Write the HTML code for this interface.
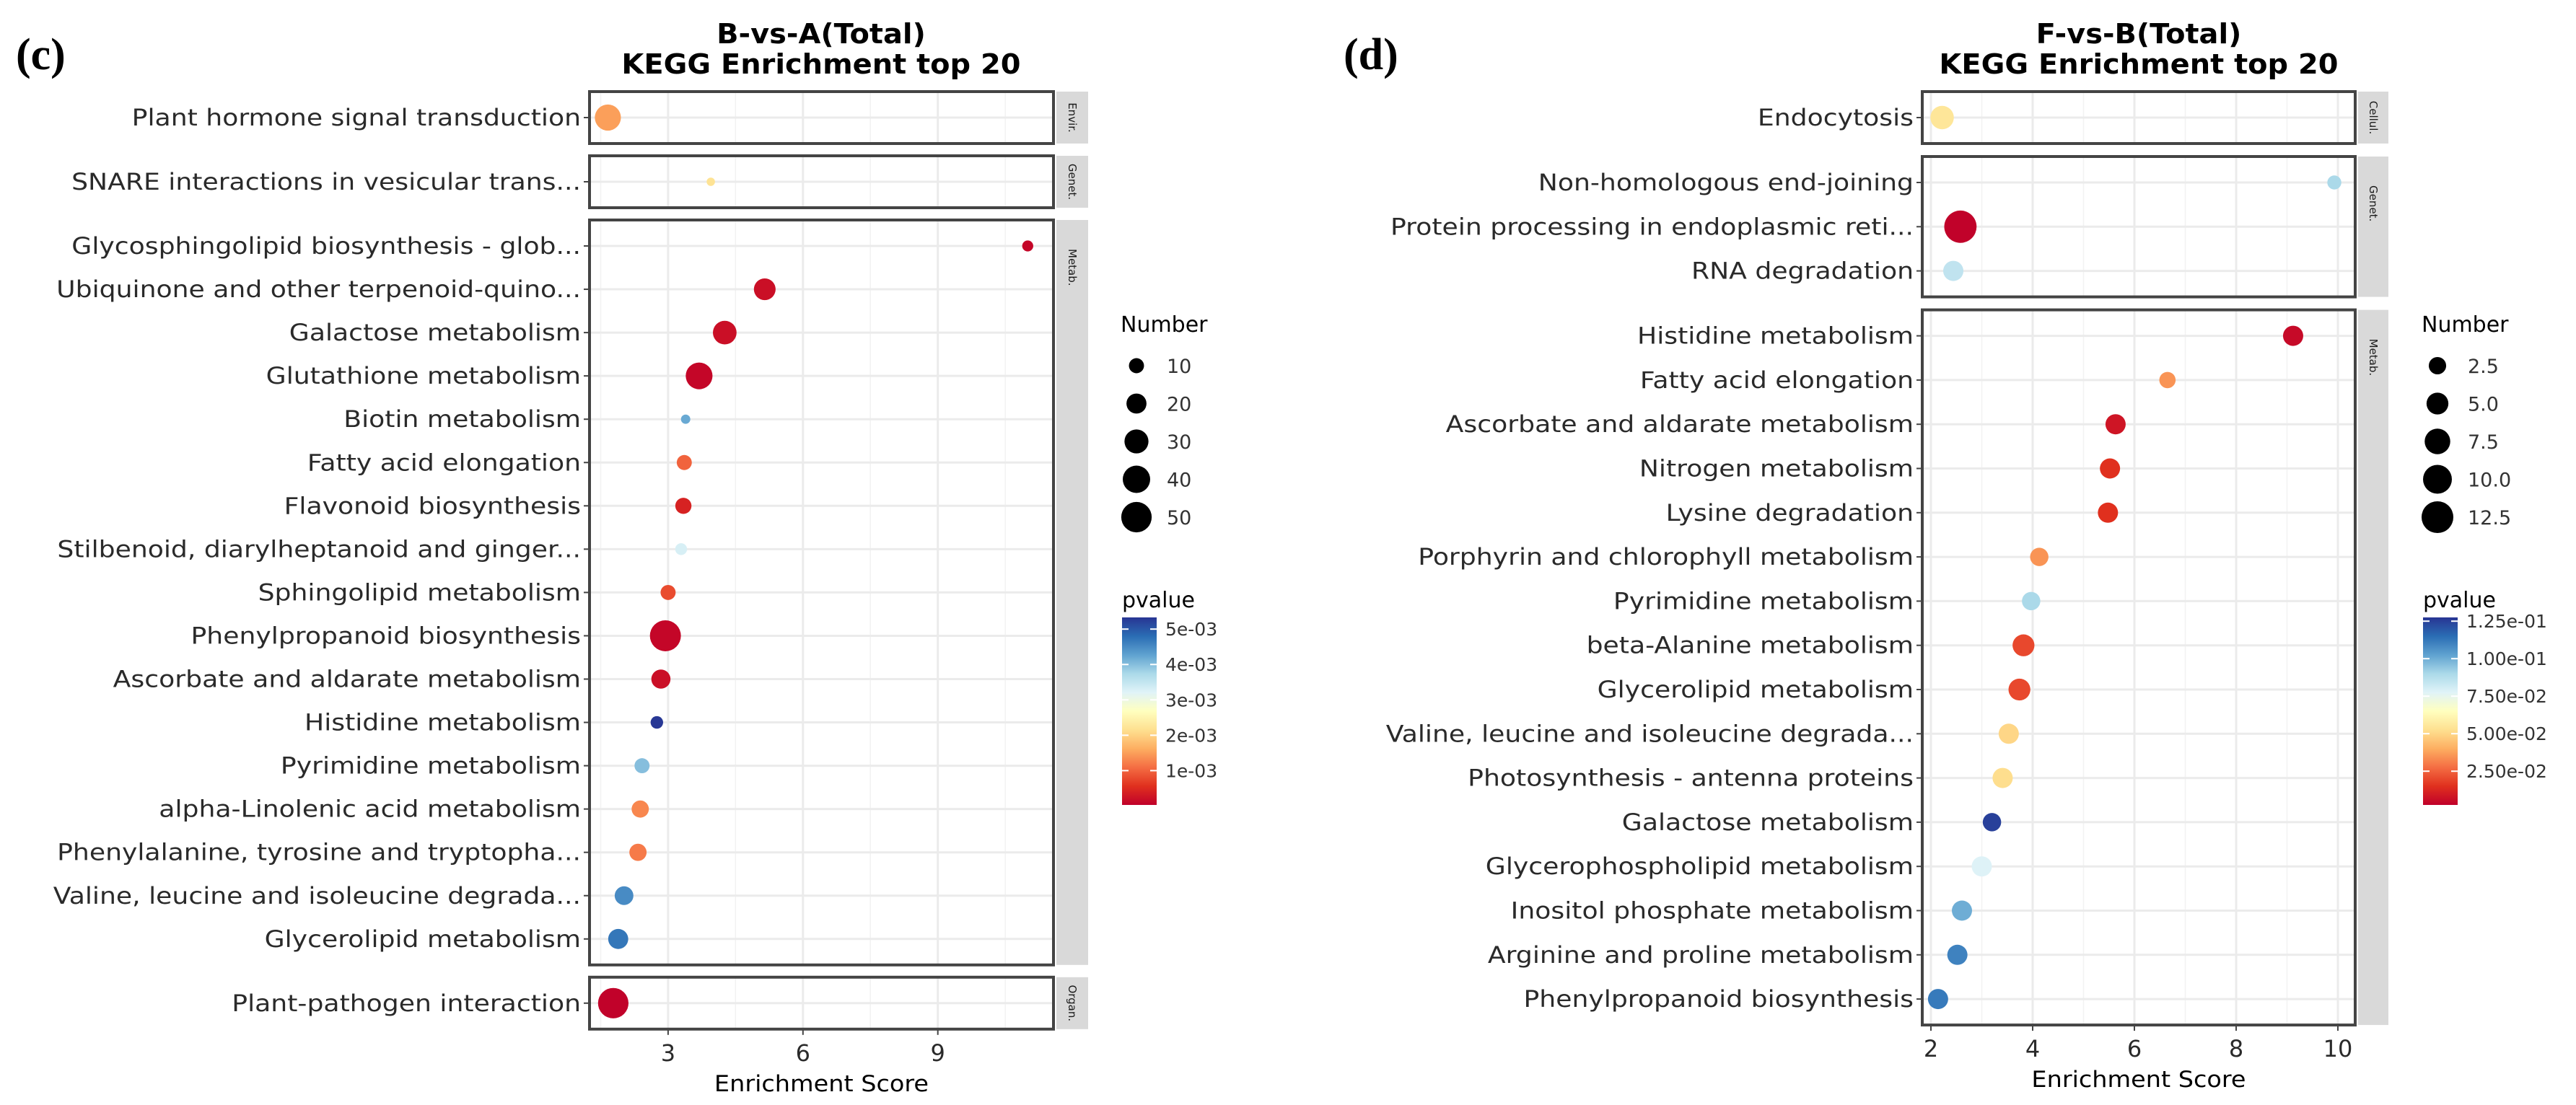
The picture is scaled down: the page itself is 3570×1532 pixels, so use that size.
<!DOCTYPE html>
<html><head><meta charset="utf-8">
<style>
html,body{margin:0;padding:0;background:#fff;}
svg{display:block;}
text{font-family:"DejaVu Sans","Liberation Sans",sans-serif;}
</style></head>
<body>
<svg id="chart" width="3570" height="1532" viewBox="0 0 3570 1532" xmlns="http://www.w3.org/2000/svg">
<rect x="0" y="0" width="3570" height="1532" fill="#fff"/>
<text x="22" y="96" style="font-family:'Liberation Serif',serif;font-weight:bold;font-size:62px" fill="#000">(c)</text>
<text x="1862" y="96" style="font-family:'Liberation Serif',serif;font-weight:bold;font-size:62px" fill="#000">(d)</text>
<g id="gc"></g>
<g id="gd"></g>
</svg>
<script>
// ---- Chart (c): B-vs-A ----
const catsC = ["Plant hormone signal transduction","SNARE interactions in vesicular trans...","Glycosphingolipid biosynthesis - glob...","Ubiquinone and other terpenoid-quino...","Galactose metabolism","Glutathione metabolism","Biotin metabolism","Fatty acid elongation","Flavonoid biosynthesis","Stilbenoid, diarylheptanoid and ginger...","Sphingolipid metabolism","Phenylpropanoid biosynthesis","Ascorbate and aldarate metabolism","Histidine metabolism","Pyrimidine metabolism","alpha-Linolenic acid metabolism","Phenylalanine, tyrosine and tryptopha...","Valine, leucine and isoleucine degrada...","Glycerolipid metabolism","Plant-pathogen interaction"];
const scoreC = [1.66,3.95,11.0,5.15,4.26,3.69,3.39,3.36,3.34,3.29,3.0,2.94,2.84,2.75,2.42,2.38,2.33,2.02,1.89,1.78];
const numberC = [36,1,4,24,29,38,2,10,12,5,10,52,18,6,10,14,14,17,20,50];
const pvalueC = [0.0015,0.0022,0.0001,0.0002,0.0002,0.0001,0.0042,0.001,0.0004,0.0033,0.0008,0.0001,0.0002,0.0053,0.004,0.0013,0.0012,0.0045,0.0047,0.00005];
const facetsC = ["Envir.","Genet.","Metab.","Organ."];
const facetCountsC = [1,1,17,1];
const xTicksC = [3,6,9];
const xMinorC = [1.5,4.5,7.5,10.5];
const sizeLegC = [10,20,30,40,50];
const pTicksC = [0.005,0.004,0.003,0.002,0.001];
const pTickLabelsC = ["5e-03","4e-03","3e-03","2e-03","1e-03"];

// ---- Chart (d): F-vs-B ----
const catsD = ["Endocytosis","Non-homologous end-joining","Protein processing in endoplasmic reti...","RNA degradation","Histidine metabolism","Fatty acid elongation","Ascorbate and aldarate metabolism","Nitrogen metabolism","Lysine degradation","Porphyrin and chlorophyll metabolism","Pyrimidine metabolism","beta-Alanine metabolism","Glycerolipid metabolism","Valine, leucine and isoleucine degrada...","Photosynthesis - antenna proteins","Galactose metabolism","Glycerophospholipid metabolism","Inositol phosphate metabolism","Arginine and proline metabolism","Phenylpropanoid biosynthesis"];
const scoreD = [2.22,9.93,2.58,2.44,9.12,6.65,5.63,5.52,5.48,4.13,3.97,3.82,3.74,3.53,3.41,3.2,3.0,2.61,2.52,2.14];
const numberD = [6,1,13,4,4,2,4,4,4,3,3,5,5,4,4,3,4,4,4,4];
const pvalueD = [0.055,0.09,0.003,0.085,0.005,0.035,0.008,0.015,0.015,0.035,0.09,0.02,0.02,0.05,0.052,0.125,0.078,0.1,0.11,0.112];
const facetsD = ["Cellul.","Genet.","Metab."];
const facetCountsD = [1,3,16];
const xTicksD = [2,4,6,8,10];
const xMinorD = [3,5,7,9];
const sizeLegD = [2.5,5.0,7.5,10.0,12.5];
const pTicksD = [0.125,0.1,0.075,0.05,0.025];
const pTickLabelsD = ["1.25e-01","1.00e-01","7.50e-02","5.00e-02","2.50e-02"];

const NS="http://www.w3.org/2000/svg";
const stops=["#c0002a","#e0301e","#f46d43","#fdae61","#fee090","#ffffbf","#e0f3f8","#abd9e9","#5fa2d0","#2a6db4","#283593"];
function hex(c){return [parseInt(c.slice(1,3),16),parseInt(c.slice(3,5),16),parseInt(c.slice(5,7),16)];}
function colorAt(t){t=Math.max(0,Math.min(1,t));const f=t*(stops.length-1);const i=Math.min(stops.length-2,Math.floor(f));const u=f-i;const a=hex(stops[i]),b=hex(stops[i+1]);return "rgb("+a.map((v,k)=>Math.round(v+(b[k]-v)*u)).join(",")+")";}
function mk(parent,tag,attrs,txt){const e=document.createElementNS(NS,tag);for(const k in attrs)e.setAttribute(k,attrs[k]);if(txt!==undefined)e.textContent=txt;parent.appendChild(e);return e;}
function stretch(el,f){try{const w=el.getComputedTextLength();if(w>0){el.setAttribute("textLength",(w*f).toFixed(1));el.setAttribute("lengthAdjust","spacingAndGlyphs");}}catch(e){}}

function draw(cfg){
  const g=document.getElementById(cfg.gid);
  const xs=v=>cfg.x0+cfg.ux*v;
  const L=cfg.left,R=cfg.right;
  let t1=mk(g,"text",{x:cfg.titleX,y:60,"text-anchor":"middle","font-size":"38","font-weight":"bold",fill:"#000"},cfg.title);
  
  
  stretch(t1,1.05);
  let t2=mk(g,"text",{x:cfg.titleX,y:102,"text-anchor":"middle","font-size":"38","font-weight":"bold",fill:"#000"},"KEGG Enrichment top 20");
  
  
  stretch(t2,1.05);
  let top=cfg.top, idx=0; const rowY=[];
  cfg.facetCounts.forEach((n,fi)=>{
    const h=(n-1)*cfg.sp+2*cfg.pad;
    const pg=mk(g,"g",{});
    
    
    mk(pg,"rect",{x:L,y:top,width:R-L,height:h,fill:"#fff"});
    cfg.xMinor.forEach(v=>{if(xs(v)>L&&xs(v)<R)mk(pg,"line",{x1:xs(v),x2:xs(v),y1:top,y2:top+h,stroke:"#f2f2f2","stroke-width":1.5});});
    cfg.xTicks.forEach(v=>mk(pg,"line",{x1:xs(v),x2:xs(v),y1:top,y2:top+h,stroke:"#ebebeb","stroke-width":3}));
    for(let r=0;r<n;r++){const y=top+cfg.pad+r*cfg.sp;rowY[idx+r]=y;
      mk(pg,"line",{x1:L,x2:R,y1:y,y2:y,stroke:"#ebebeb","stroke-width":3});
      mk(pg,"line",{x1:L-8,x2:L,y1:y,y2:y,stroke:"#444","stroke-width":2});
      const lab=mk(g,"text",{x:L-12,y:y+11,"text-anchor":"end","font-size":"32",fill:"#2a2a2a"},cfg.cats[idx+r]);
      
      
      stretch(lab,1.13);
    }
    mk(pg,"rect",{x:L,y:top,width:R-L,height:h,fill:"none",stroke:"#444","stroke-width":4});
    const st=mk(g,"rect",{x:R+4,y:top,width:cfg.stripW,height:h,fill:"#d9d9d9"});
    
    
    const cx=R+4+cfg.stripW/2, cy=top+(n===1?h/2:40);
    const sl=mk(g,"text",{x:cx,y:cy,"text-anchor":n===1?"middle":"start","font-size":"15",fill:"#1a1a1a",transform:`rotate(90 ${cx} ${cy}) translate(0 5)`},cfg.facets[fi]);
    
    
    idx+=n; top+=h+cfg.gap;
  });
  const bottom=top-cfg.gap;
  cfg.xTicks.forEach(v=>{
    mk(g,"line",{x1:xs(v),x2:xs(v),y1:bottom,y2:bottom+8,stroke:"#444","stroke-width":2});
    const tl=mk(g,"text",{x:xs(v),y:bottom+44,"text-anchor":"middle","font-size":"32",fill:"#2a2a2a"},String(v));
    
    
  });
  const xt=mk(g,"text",{x:(L+R)/2,y:bottom+86,"text-anchor":"middle","font-size":"31",fill:"#000"},"Enrichment Score");
  
  
  stretch(xt,1.08);
  const rad=n=>Math.sqrt(Math.max(16,cfg.ra+cfg.rb*n));
  const pcol=p=>colorAt((p-cfg.pmin)/(cfg.pmax-cfg.pmin));
  cfg.score.forEach((s,i)=>{
    const c=mk(g,"circle",{cx:xs(s),cy:rowY[i],r:rad(cfg.num[i]),fill:pcol(cfg.pv[i])});
    
    
  });
  const lt=mk(g,"text",{x:cfg.legX,y:460,"font-size":"30",fill:"#000"},"Number");
  
  
  cfg.sizeLeg.forEach((n,i)=>{
    const y=507+i*52.5;
    const d=mk(g,"circle",{cx:cfg.legX+22,cy:y,r:rad(n),fill:"#000"});
    
    
    mk(g,"text",{x:cfg.legX+64,y:y+10,"font-size":"27",fill:"#333"},cfg.sizeLeg[0]%1?n.toFixed(1):String(n));
  });
  const ct=mk(g,"text",{x:cfg.legX+2,y:842,"font-size":"30",fill:"#000"},"pvalue");
  
  
  const bt=856,bb=1116,bx=cfg.legX+2,bw=48;
  const gid="grad"+cfg.gid;
  const defs=mk(g,"defs",{});const lg=mk(defs,"linearGradient",{id:gid,x1:0,y1:1,x2:0,y2:0});
  stops.forEach((c,i)=>mk(lg,"stop",{offset:(i/(stops.length-1)),"stop-color":c}));
  const cb=mk(g,"rect",{x:bx,y:bt,width:bw,height:bb-bt,fill:`url(#${gid})`});
  
  
  const py=p=>bb-(p-cfg.pmin)/(cfg.pmax-cfg.pmin)*(bb-bt);
  cfg.pTicks.forEach((p,i)=>{
    mk(g,"line",{x1:bx,x2:bx+9,y1:py(p),y2:py(p),stroke:"#fff","stroke-width":2});
    mk(g,"line",{x1:bx+bw-9,x2:bx+bw,y1:py(p),y2:py(p),stroke:"#fff","stroke-width":2});
    const tl=mk(g,"text",{x:bx+bw+12,y:py(p)+9,"font-size":"25",fill:"#333"},cfg.pLabels[i]);
    
    
  });
}
draw({gid:"gc",title:"B-vs-A(Total)",titleX:1138,cats:catsC,score:scoreC,num:numberC,pv:pvalueC,facets:facetsC,facetCounts:facetCountsC,xTicks:xTicksC,xMinor:xMinorC,sizeLeg:sizeLegC,pTicks:pTicksC,pLabels:pTickLabelsC,
  x0:739,ux:62.3,left:817,right:1460,top:127,sp:60.05,pad:36,gap:17,stripW:44,ra:25,rb:8.4,pmin:0.00003,pmax:0.00533,legX:1553});
draw({gid:"gd",title:"F-vs-B(Total)",titleX:2964,cats:catsD,score:scoreD,num:numberD,pv:pvalueD,facets:facetsD,facetCounts:facetCountsD,xTicks:xTicksD,xMinor:xMinorD,sizeLeg:sizeLegD,pTicks:pTicksD,pLabels:pTickLabelsD,
  x0:2535,ux:70.5,left:2664,right:3264,top:127,sp:61.3,pad:36,gap:18,stripW:42,ra:60,rb:34,pmin:0.0025,pmax:0.1275,legX:3356});
</script>
</body></html>
